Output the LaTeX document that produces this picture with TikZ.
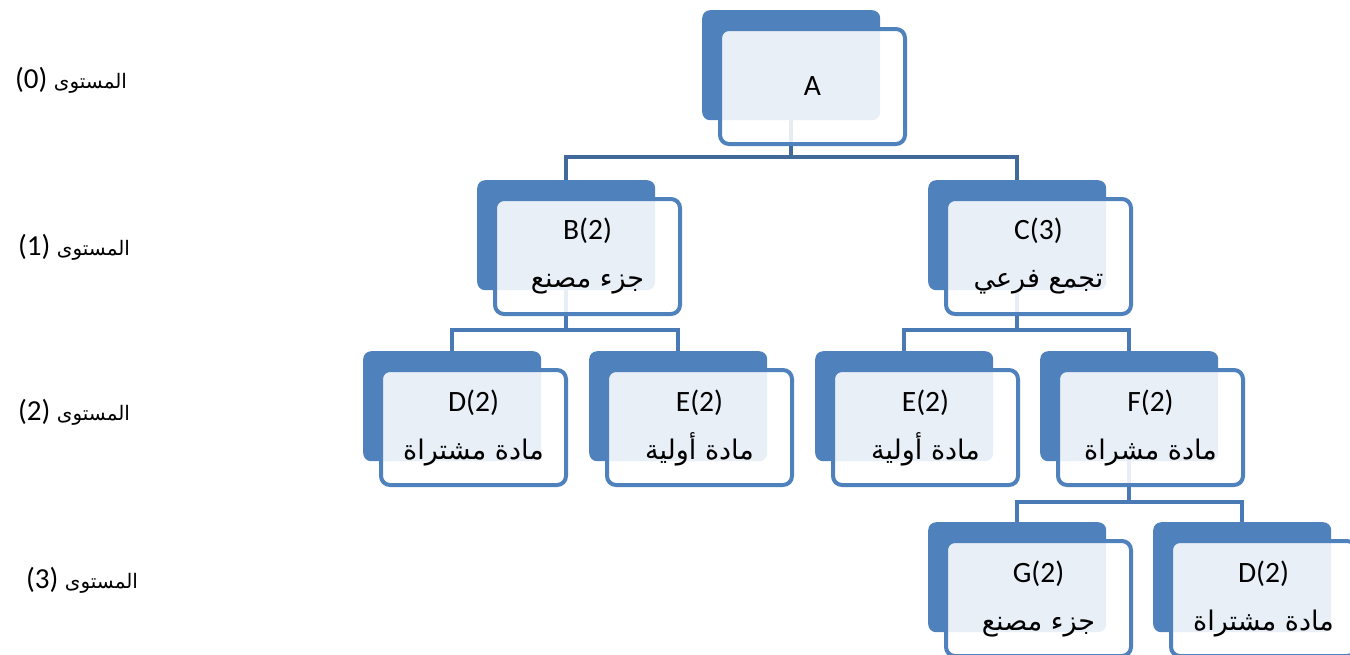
\documentclass[tikz,border=0pt]{standalone}
\usepackage{fontspec}
\setmainfont{Carlito}
\newfontfamily\arabicfont[Script=Arabic]{DejaVu Sans}
\TeXXeTstate=1
\usetikzlibrary{calc}
\definecolor{boxblue}{HTML}{4F81BD}
\definecolor{linkblue}{HTML}{4A7AB5}
\definecolor{toplink}{HTML}{41699C}
\pgfdeclarelayer{links}
\pgfsetlayers{links,main}
% Arabic runs, right to left
\newcommand\arw[1]{{\arabicfont\fontsize{27}{32}\selectfont\beginR #1\endR}}
\newcommand\arl[1]{{\arabicfont\fontsize{20}{24}\selectfont\beginR #1\endR}}
% one hierarchy box: blue back plate and translucent framed front plate
\newcommand\orgbox[4]{%
  \node[backbox] (#1b) at (#2,#3) {};
  \node[frontbox] (#1) at ($(#2,#3)+(16,17)$) {#4};
}
\begin{document}
\begin{tikzpicture}[x=1pt,y=-1pt,
  backbox/.style={fill=boxblue, rounded corners=8pt, minimum width=178pt,
    minimum height=110pt, inner sep=0pt, anchor=north west},
  frontbox/.style={draw=boxblue, line width=4pt, fill=white, fill opacity=0.88,
    text opacity=1, draw opacity=1, rounded corners=9pt, minimum width=185pt,
    minimum height=115pt, inner sep=0pt, anchor=north west, align=center,
    font=\fontsize{29.5}{48}\selectfont},
  link/.style={draw=linkblue, line width=4pt},
  level/.style={font=\fontsize{29}{30}\selectfont, inner sep=0pt}]
\clip (0,0) rectangle (1350,654);
\useasboundingbox (0,0) rectangle (1350,654);

% level captions
\node[level] (lv0) at (71,80)  {(0) \arl{المستوى}};
\node[level] (lv1) at (74,247) {(1) \arl{المستوى}};
\node[level] (lv2) at (74,412) {(2) \arl{المستوى}};
\node[level] (lv3) at (82,580) {(3) \arl{المستوى}};

% boxes
\orgbox{A}{702}{10}{A}
\orgbox{B}{477}{180}{B(2)\\\arw{جزء مصنع}}
\orgbox{C}{928}{180}{C(3)\\\arw{تجمع فرعي}}
\orgbox{D}{363}{351}{D(2)\\\arw{مادة مشتراة}}
\orgbox{E}{589}{351}{E(2)\\\arw{مادة أولية}}
\orgbox{E2}{815}{351}{E(2)\\\arw{مادة أولية}}
\orgbox{F}{1040}{351}{F(2)\\\arw{مادة مشراة}}
\orgbox{G}{928}{522}{G(2)\\\arw{جزء مصنع}}
\orgbox{D2}{1153}{522}{D(2)\\\arw{مادة مشتراة}}

% bus heights
\coordinate (busA) at (0,157);
\coordinate (busB) at (0,330);
\coordinate (busC) at (0,330);
\coordinate (busF) at (0,502);

% connectors
\begin{pgfonlayer}{links}
\draw[link, draw=toplink] (Ab.south) -- (Ab.south |- busA) -| (Bb.north);
\draw[link, draw=toplink] (Ab.south) -- (Ab.south |- busA) -| (Cb.north);
\draw[link] (Bb.south) -- (Bb.south |- busB) -| (Db.north);
\draw[link] (Bb.south) -- (Bb.south |- busB) -| (Eb.north);
\draw[link] (Cb.south) -- (Cb.south |- busC) -| (E2b.north);
\draw[link] (Cb.south) -- (Cb.south |- busC) -| (Fb.north);
\draw[link] (Fb.south) -- (Fb.south |- busF) -| (Gb.north);
\draw[link] (Fb.south) -- (Fb.south |- busF) -| (D2b.north);
\end{pgfonlayer}
\end{tikzpicture}
\end{document}
